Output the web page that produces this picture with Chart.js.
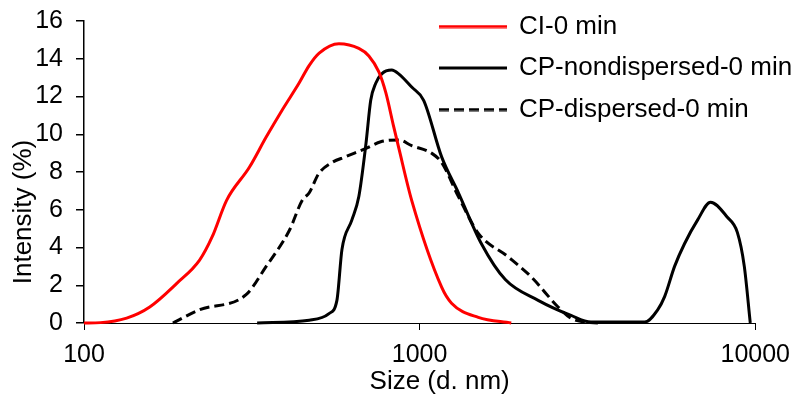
<!DOCTYPE html>
<html>
<head>
<meta charset="utf-8">
<script src="https://cdn.jsdelivr.net/npm/chart.js@4.4.1/dist/chart.umd.min.js"></script>
<style>
  html, body { margin: 0; padding: 0; background: #fff; }
  #wrap { width: 800px; height: 397px; position: relative; }
</style>
</head>
<body>
<div id="wrap"><canvas id="dlsChart"></canvas></div>
<script>
// values (size in nm, intensity in %)
const seriesLabels = ['CI-0 min', 'CP-nondispersed-0 min', 'CP-dispersed-0 min'];

const ciSize = [100, 112, 134, 157, 189, 221, 241, 266, 311, 349, 390, 437, 469, 502, 575, 659, 706, 756, 793, 837, 866, 947, 1163, 1245, 1496, 1875];
const ciIntensity = [0, 0.02, 0.26, 0.85, 2.1, 3.33, 4.57, 6.5, 8.25, 9.85, 11.3, 12.7, 13.65, 14.3, 14.8, 14.55, 14.15, 13.3, 12.2, 10.4, 9.3, 6.5, 1.9, 1.05, 0.3, 0];

const cpnSize = [328, 469, 537, 567, 587, 628, 659, 692, 715, 740, 771, 826, 866, 947, 1028, 1163, 1305, 1528, 1800, 2255, 2825, 3240, 4685, 5120, 5370, 5750, 6155, 6730, 7355, 8260, 8845, 9277, 9665];
const cpnIntensity = [0, 0.15, 0.5, 1.2, 3.9, 5.45, 6.7, 9.5, 11.8, 12.7, 13.2, 13.4, 13.2, 12.5, 11.8, 8.8, 6.9, 4.2, 2.3, 1.2, 0.4, 0.05, 0.05, 0.7, 1.4, 3.0, 4.2, 5.45, 6.4, 5.6, 4.8, 3.0, 0];

const cpdSize = [184, 221, 304, 349, 409, 447, 469, 500, 548, 600, 692, 766, 866, 947, 1085, 1163, 1305, 1496, 1837, 2149, 2585, 2825, 3109, 3398];
const cpdIntensity = [0, 0.7, 1.5, 3.0, 4.9, 6.5, 6.9, 7.9, 8.5, 8.8, 9.25, 9.6, 9.7, 9.4, 9.0, 8.5, 6.7, 4.75, 3.5, 2.45, 0.85, 0.25, 0.05, 0];

const xTicks = [100, 1000, 10000];
const xTitle = 'Size (d. nm)';
const yTitle = 'Intensity (%)';

function toPoints(xs, ys) {
  return xs.map(function(x, i) { return {x: x, y: ys[i]}; });
}

// short line sample used as the legend symbol
function legendSample(color, dash) {
  const c = document.createElement('canvas');
  c.width = 68;
  c.height = 4;
  const g = c.getContext('2d');
  g.strokeStyle = color;
  g.lineWidth = 3;
  g.setLineDash(dash);
  g.beginPath();
  g.moveTo(0, 2);
  g.lineTo(68, 2);
  g.stroke();
  return c;
}

Chart.defaults.font.family = '"Liberation Sans", Arial, sans-serif';
Chart.defaults.color = '#000';

// legend sits inside the plot, titles are nudged like in the original
const legendSpot = {left: 440, top: 13.5};
const titleShift = {x: 20, y: 40};

function shiftTitle(scale, dx, dy) {
  if (scale._shifted) return;
  const draw = scale.drawTitle;
  scale.drawTitle = function() {
    this.ctx.save();
    this.ctx.translate(dx, dy);
    draw.call(this);
    this.ctx.restore();
  };
  scale._shifted = true;
}

const layoutTweaks = {
  id: 'layoutTweaks',
  beforeLayout(chart) {
    const legend = chart.legend;
    if (legend._patched) return;
    const fit = legend.fit;
    legend.fit = function() {
      fit.call(this);
      this.width = 0;
    };
    legend._patched = true;
  },
  afterLayout(chart) {
    const legend = chart.legend;
    const pad = legend.options.labels.padding;
    legend.left = legendSpot.left - pad;
    legend.right = chart.width;
    legend.top = legendSpot.top - pad;
    legend.bottom = legend.top + 200;
    shiftTitle(chart.scales.x, titleShift.x, 0);
    shiftTitle(chart.scales.y, 0, titleShift.y);
  }
};

new Chart(document.getElementById('dlsChart'), {
  type: 'line',
  data: {
    datasets: [
      {
        label: seriesLabels[0],
        data: toPoints(ciSize, ciIntensity),
        borderColor: '#ff0000',
        borderWidth: 3,
        pointStyle: legendSample('#ff0000', []),
        clip: false
      },
      {
        label: seriesLabels[1],
        data: toPoints(cpnSize, cpnIntensity),
        borderColor: '#000000',
        borderWidth: 3,
        pointStyle: legendSample('#000000', []),
        clip: false
      },
      {
        label: seriesLabels[2],
        data: toPoints(cpdSize, cpdIntensity),
        borderColor: '#000000',
        borderWidth: 3,
        borderDash: [10, 5],
        pointStyle: legendSample('#000000', [10, 5]),
        clip: false
      }
    ]
  },
  options: {
    responsive: true,
    maintainAspectRatio: false,
    animation: false,
    layout: {padding: {top: 21, right: 42, left: 0, bottom: 0}},
    elements: {
      point: {radius: 0},
      line: {cubicInterpolationMode: 'monotone', fill: false}
    },
    plugins: {
      legend: {
        position: 'right',
        align: 'start',
        labels: {
          usePointStyle: true,
          pointStyleWidth: 66,
          padding: 15.5,
          color: '#000',
          font: {size: 26}
        }
      },
      tooltip: {enabled: false}
    },
    scales: {
      x: {
        type: 'logarithmic',
        min: 100,
        max: 10000,
        afterBuildTicks: function(scale) {
          scale.ticks = xTicks.map(function(v) { return {value: v}; });
        },
        afterFit: function(scale) { scale.height = 74; },
        ticks: {
          callback: function(v) { return String(v); },
          autoSkip: false,
          maxRotation: 0,
          padding: 10,
          color: '#000',
          font: {size: 25}
        },
        grid: {drawOnChartArea: false, drawTicks: true, tickLength: 7, color: '#000', lineWidth: 1},
        border: {display: true, color: '#000', width: 1},
        title: {display: true, text: xTitle, color: '#000', font: {size: 26}, padding: {top: 0, bottom: 0}}
      },
      y: {
        min: 0,
        max: 16,
        afterFit: function(scale) {
          scale.width = 84;
          scale.paddingTop = 0;
        },
        ticks: {stepSize: 2, padding: 13, color: '#000', font: {size: 25}},
        grid: {drawOnChartArea: false, drawTicks: true, tickLength: 8, color: '#000', lineWidth: 1.5},
        border: {display: true, color: '#000', width: 1.5},
        title: {display: true, text: yTitle, color: '#000', font: {size: 26}, padding: {top: 8, bottom: 0}}
      }
    }
  },
  plugins: [layoutTweaks]
});
</script>
</body>
</html>
